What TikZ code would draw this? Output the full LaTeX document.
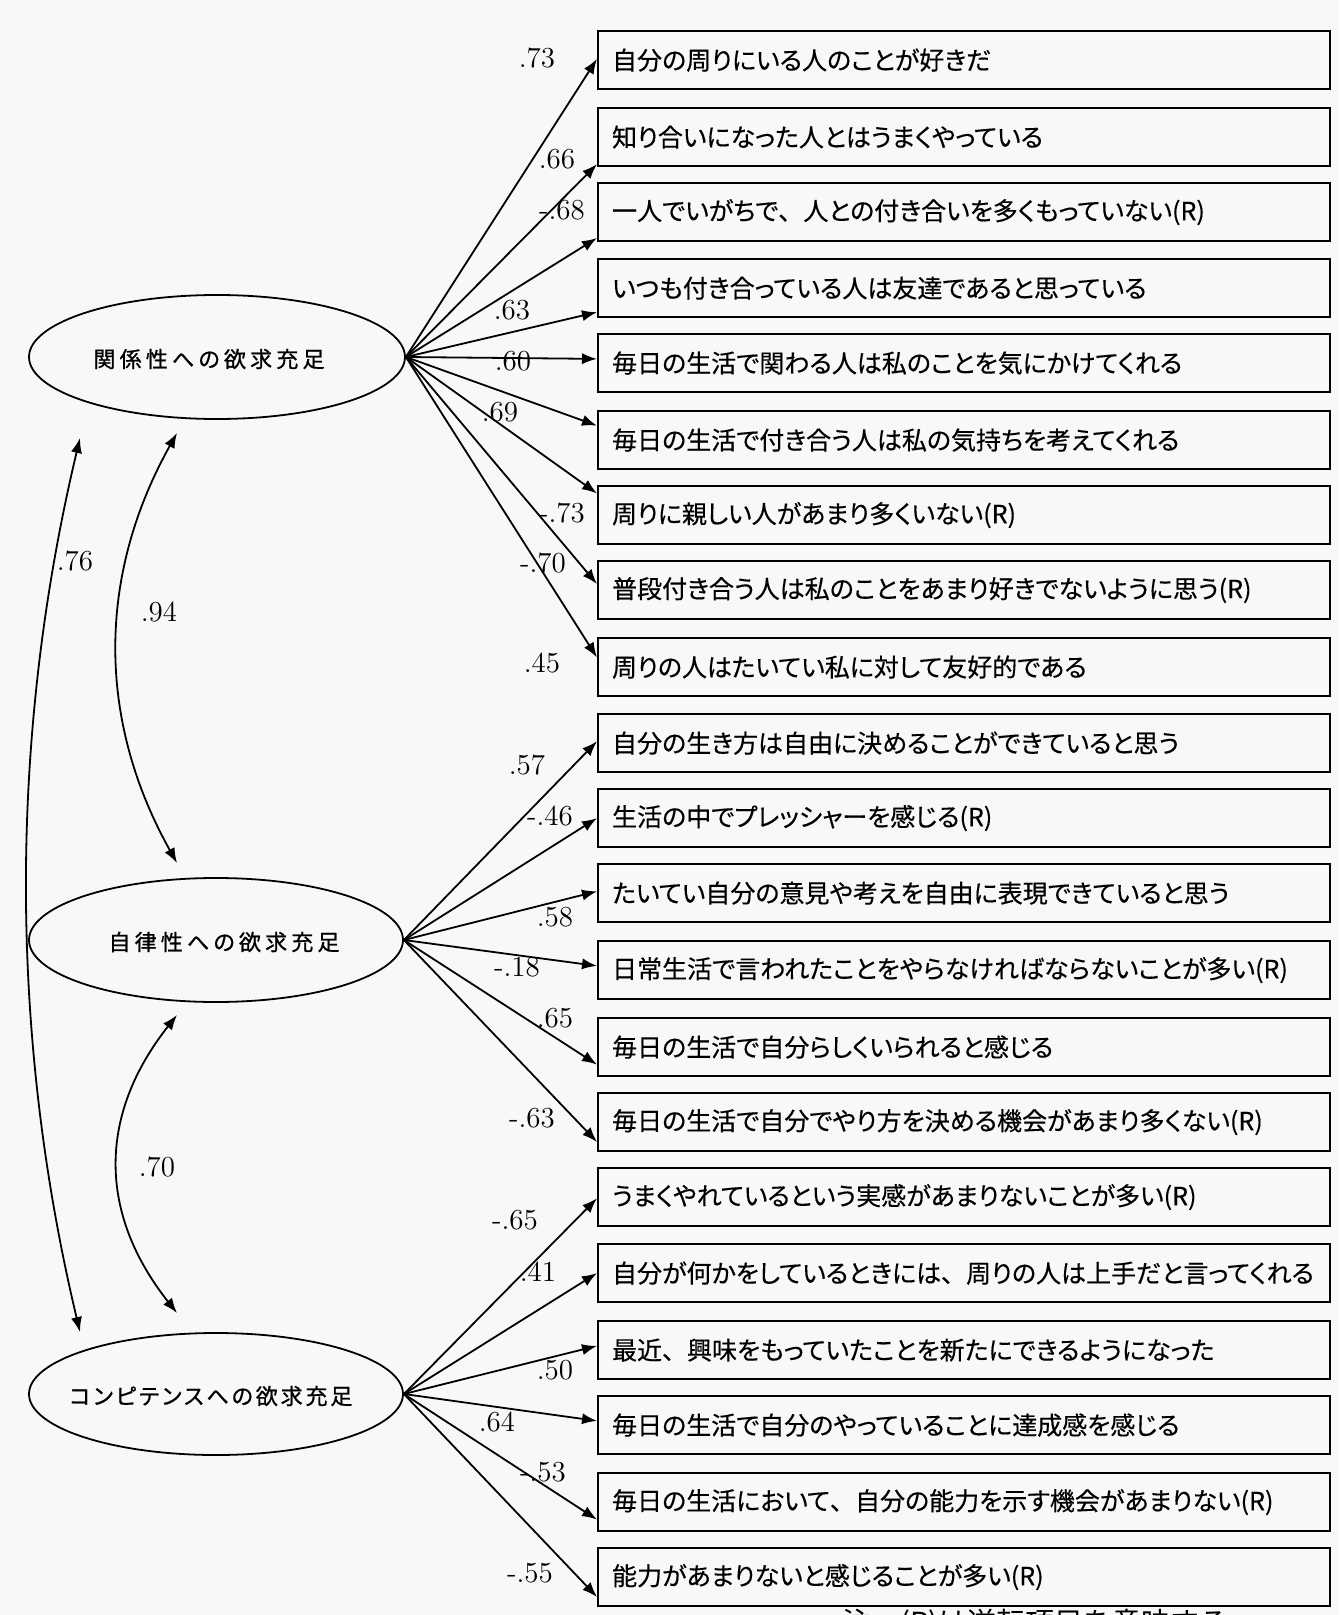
\documentclass[tikz,border=0pt]{standalone}
\usepackage{fontspec}
\newfontfamily\jp[RawFeature=+palt, FakeBold=0.4]{Noto Sans CJK JP}
\newfontfamily\jpw[RawFeature=+palt, LetterSpace=19, FakeBold=0.9]{Noto Sans CJK JP}
\newfontfamily\jpk[RawFeature=+palt, LetterSpace=13, FakeBold=0.9]{Noto Sans CJK JP}
\newfontfamily\jpn{Noto Sans CJK JP}
\newcommand{\tten}{\makebox[1em][l]{、}}
\usetikzlibrary{shapes.geometric,arrows.meta,calc}
\definecolor{pagebg}{RGB}{248,248,248}
\begin{document}
\begin{tikzpicture}[x=0.5pt,y=-0.5pt,
  itembox/.style={draw, line width=1.1pt, anchor=north west, minimum height=29pt,
    text width=352pt, inner xsep=7pt, inner ysep=0pt, align=left,
    font=\jp\fontsize{12.5pt}{14pt}\selectfont},
  latent/.style={draw, ellipse, line width=0.9pt, inner sep=0pt},
  ltext/.style={inner sep=0pt, font=\jpw\fontsize{11pt}{12pt}\selectfont},
  load/.style={-{Latex[length=7.5pt,width=5.6pt]}, line width=0.9pt},
  corr/.style={{Latex[length=7.5pt,width=5.6pt]}-{Latex[length=7.5pt,width=5.6pt]}, line width=0.9pt},
  lab/.style={inner sep=0pt, font=\fontsize{14.5pt}{15pt}\selectfont}]
\fill[pagebg] (0,0) rectangle (1339,1615);
\useasboundingbox (0,0) rectangle (1339,1615);

% latent variables
\node[latent, minimum width=188pt, minimum height=62pt] (rel) at (217,357) {};
\node[latent, minimum width=187pt, minimum height=62pt] (aut) at (216,940) {};
\node[latent, minimum width=187pt, minimum height=61pt] (com) at (216,1394) {};
\node[ltext] (relt) at (209,359) {関係性への欲求充足};
\node[ltext] (autt) at (224,942) {自律性への欲求充足};
\node[ltext, font=\jpk\fontsize{11pt}{12pt}\selectfont] (comt) at (211,1396) {コンピテンスへの欲求充足};

% observed items
\node[itembox] (b1) at (597,30) {自分の周りにいる人のことが好きだ};
\node[itembox] (b2) at (597,107) {知り合いになった人とはうまくやっている};
\node[itembox] (b3) at (597,182) {一人でいがちで\tten 人との付き合いを多くもっていない(R)};
\node[itembox] (b4) at (597,258) {いつも付き合っている人は友達であると思っている};
\node[itembox] (b5) at (597,333) {毎日の生活で関わる人は私のことを気にかけてくれる};
\node[itembox] (b6) at (597,410) {毎日の生活で付き合う人は私の気持ちを考えてくれる};
\node[itembox] (b7) at (597,485) {周りに親しい人があまり多くいない(R)};
\node[itembox] (b8) at (597,560) {普段付き合う人は私のことをあまり好きでないように思う(R)};
\node[itembox] (b9) at (597,637) {周りの人はたいてい私に対して友好的である};
\node[itembox] (b10) at (597,713) {自分の生き方は自由に決めることができていると思う};
\node[itembox] (b11) at (597,788) {生活の中でプレッシャーを感じる(R)};
\node[itembox] (b12) at (597,863) {たいてい自分の意見や考えを自由に表現できていると思う};
\node[itembox] (b13) at (597,940) {日常生活で言われたことをやらなければならないことが多い(R)};
\node[itembox] (b14) at (597,1017) {毎日の生活で自分らしくいられると感じる};
\node[itembox] (b15) at (597,1092) {毎日の生活で自分でやり方を決める機会があまり多くない(R)};
\node[itembox] (b16) at (597,1167) {うまくやれているという実感があまりないことが多い(R)};
\node[itembox] (b17) at (597,1243) {自分が何かをしているときには\tten 周りの人は上手だと言ってくれる};
\node[itembox] (b18) at (597,1320) {最近\tten 興味をもっていたことを新たにできるようになった};
\node[itembox] (b19) at (597,1395) {毎日の生活で自分のやっていることに達成感を感じる};
\node[itembox] (b20) at (597,1472) {毎日の生活において\tten 自分の能力を示す機会があまりない(R)};
\node[itembox] (b21) at (597,1547) {能力があまりないと感じることが多い(R)};

% loadings
\foreach \b/\f in {b1/0.48,b2/0.95,b3/0.93,b4/0.9,b5/0.43,b6/0.26,b7/0.14,b8/0.4,b9/0.34}
  \draw[load] (rel.east) -- ($(\b.north west)!\f!(\b.south west)$);
\foreach \b/\f in {b10/0.47,b11/0.5,b12/0.47,b13/0.43,b14/0.79,b15/0.83}
  \draw[load] (aut.east) -- ($(\b.north west)!\f!(\b.south west)$);
\foreach \b/\f in {b16/0.52,b17/0.5,b18/0.43,b19/0.43,b20/0.79,b21/0.83}
  \draw[load] (com.east) -- ($(\b.north west)!\f!(\b.south west)$);

% loading labels
\node[lab] (l1) at (537,58) {.73};
\node[lab] (l2) at (557,159) {.66};
\node[lab] (l3) at (562,210) {-.68};
\node[lab] (l4) at (512,310) {.63};
\node[lab] (l5) at (513,361) {.60};
\node[lab] (l6) at (500,412) {.69};
\node[lab] (l7) at (562,513) {-.73};
\node[lab] (l8) at (543,563) {-.70};
\node[lab] (l9) at (542,663) {.45};
\node[lab] (l10) at (527,765) {.57};
\node[lab] (l11) at (550,816) {-.46};
\node[lab] (l12) at (555,917) {.58};
\node[lab] (l13) at (517,967) {-.18};
\node[lab] (l14) at (555,1018) {.65};
\node[lab] (l15) at (532,1118) {-.63};
\node[lab] (l16) at (515,1220) {-.65};
\node[lab] (l17) at (538,1272) {.41};
\node[lab] (l18) at (555,1370) {.50};
\node[lab] (l19) at (497,1422) {.64};
\node[lab] (l20) at (543,1472) {-.53};
\node[lab] (l21) at (530,1573) {-.55};

% correlations
\coordinate (r76) at (80,438);
\coordinate (c76) at (80,1332);
\coordinate (r94) at (177,433);
\coordinate (a94) at (177,863);
\coordinate (a70) at (177,1015);
\coordinate (c70) at (177,1313);
\draw[corr] (r76) .. controls (9,736) and (9,1034) .. (c76);
\draw[corr] (r94) .. controls (97,576) and (97,720) .. (a94);
\draw[corr] (a70) .. controls (98,1115) and (98,1213) .. (c70);
\node[lab] (k76) at (75,561) {.76};
\node[lab] (k94) at (159,612) {.94};
\node[lab] (k70) at (157,1167) {.70};

% footnote (cut by the page edge, as in the source)
\begin{scope}
\clip (0,0) rectangle (1339,1615);
\node[anchor=west, inner sep=0pt, font=\jpn\fontsize{14.5pt}{15pt}\selectfont] (note) at (842,1624) {注\hspace{1em}(R)は逆転項目を意味する};
\end{scope}
\end{tikzpicture}
\end{document}
